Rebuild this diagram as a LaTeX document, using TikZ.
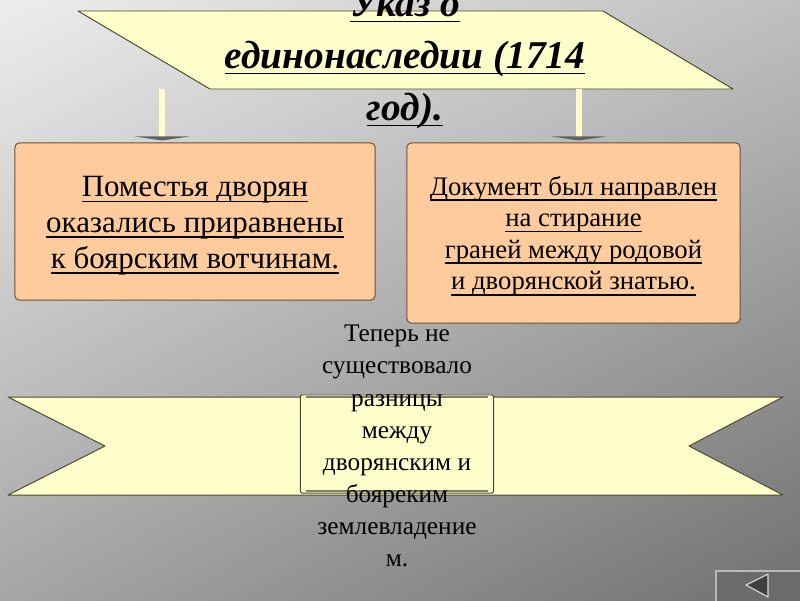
\documentclass[tikz,border=0pt]{standalone}
\usepackage{fontspec}
\setmainfont{Liberation Serif}
\usetikzlibrary{shadings}

\definecolor{bannerfill}{HTML}{FFFFCC}
\definecolor{peachfill}{HTML}{FDCB9C}
\definecolor{edgeolive}{HTML}{4A4A32}
\definecolor{edgebrown}{HTML}{6B5038}
% underlined line of text, same depth for every line
\newcommand{\ulln}[1]{\setbox0\hbox{#1}\rlap{\rule[-4pt]{\wd0}{1.1pt}}#1}

\begin{document}
\begin{tikzpicture}[x=0.025cm, y=-0.025cm,
    banner/.style={fill=bannerfill, draw=edgeolive, line width=0.7pt, line join=round},
    infobox/.style={fill=peachfill, draw=edgebrown, line width=0.7pt, rounded corners=3pt, inner sep=0pt},
    stem/.style={draw=edgeolive, line width=0.4pt, double=bannerfill, double distance=3.6pt},
    tipshape/.style={fill=black!62, draw=none},
    note/.style={align=center, inner sep=0pt}]
    \useasboundingbox (0,0) rectangle (800,600);
    \clip (0,0) rectangle (800,600);
    \shade[upper left=black!7, upper right=black!25, lower left=black!35, lower right=black!56] (0,0) rectangle (800,600);

    % title banner
    \draw[banner] (78,11) -- (603,11) -- (733,89) -- (210,89) -- cycle;
    \node[note, font=\fontsize{28}{37}\selectfont\bfseries\itshape] (title) at (405,60)
        {\ulln{Указ о}\\ \ulln{единонаследии (1714}\\ \ulln{год).}};

    % two boxes
    \node[infobox, minimum width=9cm, minimum height=3.925cm] (leftbox) at (195,221.5) {};
    \node[infobox, minimum width=8.325cm, minimum height=4.5cm] (rightbox) at (573.5,233) {};
    \node[note, font=\fontsize{22}{25.5}\selectfont] (lefttext) at ([yshift=-0.1cm]leftbox.center)
        {\ulln{Поместья дворян}\\ \ulln{оказались приравнены}\\ \ulln{к боярским вотчинам.}};
    \node[note, font=\fontsize{19}{22.5}\selectfont] (righttext) at ([yshift=-0.07cm]rightbox.center)
        {\ulln{Документ был направлен}\\ \ulln{на стирание}\\ \ulln{граней между родовой}\\ \ulln{и дворянской знатью.}};

    % stems from the banner down to the boxes
    \coordinate (leftfoot) at (162,89);
    \coordinate (rightfoot) at (579,89);
    \foreach \foot/\bx in {leftfoot/leftbox, rightfoot/rightbox} {
        \draw[stem] (\foot) -- ([yshift=0.1cm]\bx.north -| \foot);
        \fill[tipshape] ([xshift=-0.68cm, yshift=0.15cm]\bx.north -| \foot) -- ([xshift=0.68cm, yshift=0.15cm]\bx.north -| \foot)
            -- ([yshift=0.05cm]\bx.north -| \foot) -- cycle;
    }

    % ribbon with the card
    \draw[banner] (8,397) -- (783,397) -- (689,446) -- (783,495) -- (8,495) -- (105,446) -- cycle;
    \node[banner, rounded corners=1pt, minimum width=4.825cm, minimum height=2.45cm, inner sep=0pt] (card) at (397,444) {};
    \draw[edgeolive!70, line width=0.9pt] ([xshift=0.15cm, yshift=-0.06cm]card.north west) -- ([xshift=-0.15cm, yshift=-0.06cm]card.north east);
    \draw[edgeolive!70, line width=0.9pt] ([xshift=0.15cm, yshift=0.06cm]card.south west) -- ([xshift=-0.15cm, yshift=0.06cm]card.south east);
    \node[note, font=\fontsize{18}{22.8}\selectfont] (diffnote) at (397,446)
        {Теперь не\\ существовало\\ разницы\\ между\\ дворянским и\\ бояреким\\ землевладение\\ м.};

    % back button
    \draw[draw=black!28, fill=black!58, line width=0.8pt] (716,571) rectangle (802,602);
    \draw[draw=white!85!black, fill=black!75, line width=0.8pt, line join=round] (746,585) -- (768,574) -- (768,597) -- cycle;
\end{tikzpicture}
\end{document}
